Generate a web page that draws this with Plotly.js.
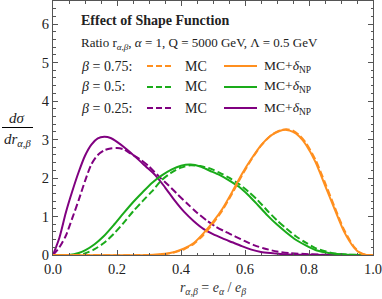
<!DOCTYPE html>
<html>
<head>
<meta charset="utf-8">
<script src="https://cdn.plot.ly/plotly-3.0.1.min.js"></script>
</head>
<body style="margin:0;font-family:'Liberation Serif'">
<div id="chart" style="width:382px;height:299px"></div>
<div style="position:absolute;left:0;top:0;visibility:hidden;font-family:'Liberation Serif';font-size:14px" aria-hidden="true">β α δ Λ σ 0.2 <b>E</b> <i>d</i></div>
<script>
// beta = 0.25
const xPurpleNP = [0,0.02,0.04,0.06,0.08,0.10,0.12,0.14,0.16,0.18,0.20,0.23,0.26,0.29,0.32,0.35,0.38,0.41,0.44,0.47,0.50,0.53,0.56,0.59,0.62,0.65,0.68,0.72,0.80,0.90,1.0];
const yPurpleNP = [0,0.45,1.1,1.65,2.15,2.58,2.87,3.03,3.07,3.04,2.94,2.75,2.53,2.30,2.07,1.76,1.42,1.12,0.88,0.68,0.54,0.43,0.33,0.23,0.14,0.08,0.05,0.02,0.005,0,0];
const xPurpleMC = [0,0.02,0.04,0.06,0.08,0.10,0.12,0.14,0.16,0.18,0.20,0.22,0.24,0.27,0.30,0.33,0.36,0.39,0.42,0.45,0.48,0.51,0.54,0.57,0.60,0.63,0.66,0.70,0.74,0.80,0.86,0.90,1.0];
const yPurpleMC = [0,0.2,0.5,0.95,1.42,1.92,2.36,2.60,2.72,2.77,2.78,2.75,2.65,2.50,2.30,2.05,1.82,1.57,1.33,1.10,0.90,0.73,0.60,0.48,0.36,0.25,0.17,0.09,0.05,0.02,0.005,0,0];
// beta = 0.5
const xGreenNP = [0,0.05,0.08,0.10,0.13,0.16,0.19,0.22,0.25,0.28,0.31,0.34,0.37,0.40,0.43,0.46,0.49,0.52,0.55,0.58,0.61,0.64,0.67,0.70,0.73,0.76,0.79,0.82,0.85,0.88,0.92,1.0];
const yGreenNP = [0,0,0.05,0.12,0.28,0.50,0.78,1.08,1.37,1.63,1.88,2.07,2.22,2.32,2.35,2.30,2.19,2.08,1.94,1.78,1.56,1.30,1.03,0.79,0.58,0.39,0.25,0.13,0.07,0.03,0.005,0];
const xGreenMC = [0,0.07,0.10,0.13,0.16,0.19,0.22,0.25,0.28,0.31,0.34,0.37,0.40,0.43,0.46,0.49,0.52,0.55,0.58,0.61,0.64,0.67,0.70,0.73,0.76,0.79,0.82,0.85,0.88,0.92,1.0];
const yGreenMC = [0,0,0.04,0.15,0.32,0.55,0.83,1.13,1.40,1.66,1.95,2.14,2.27,2.33,2.31,2.25,2.14,2.01,1.85,1.65,1.42,1.15,0.90,0.68,0.48,0.32,0.18,0.10,0.04,0.01,0];
// beta = 0.75
const xOrangeNP = [0,0.30,0.35,0.38,0.41,0.44,0.47,0.50,0.53,0.56,0.59,0.62,0.65,0.68,0.71,0.73,0.75,0.77,0.79,0.82,0.85,0.88,0.91,0.94,0.96,0.98,1.0];
const yOrangeNP = [0,0,0.03,0.08,0.17,0.31,0.56,0.86,1.21,1.64,2.10,2.50,2.85,3.10,3.23,3.25,3.20,3.08,2.87,2.42,1.81,1.19,0.60,0.20,0.05,0,0];
const xOrangeMC = [0,0.30,0.35,0.38,0.41,0.44,0.47,0.50,0.53,0.56,0.59,0.62,0.65,0.68,0.71,0.73,0.75,0.77,0.79,0.82,0.85,0.88,0.91,0.94,0.96,0.98,1.0];
const yOrangeMC = [0,0,0.02,0.07,0.15,0.29,0.52,0.82,1.17,1.60,2.06,2.48,2.84,3.10,3.24,3.27,3.23,3.11,2.92,2.48,1.88,1.25,0.65,0.22,0.06,0,0];

const xTickVals = [0,0.2,0.4,0.6,0.8,1.0];
const yTickVals = [0,1,2,3,4,5,6];
const betaLabels = ['<i>β</i> = 0.75:', '<i>β</i> = 0.5:', '<i>β</i> = 0.25:'];

const cOrange = '#ff8f1f', cGreen = '#1aab1a', cPurple = '#800080';
const dashPat = '7px,3px';
const serif = 'Liberation Serif';

function tr(x, y, color, dashed, name){
  return {x:x, y:y, type:'scatter', mode:'lines', name:name, showlegend:false,
    line:{color:color, width:2, dash: dashed ? dashPat : 'solid', shape:'spline', smoothing:0.7},
    hoverinfo:'skip'};
}
const data = [
  tr(xPurpleMC, yPurpleMC, cPurple, true, 'β=0.25 MC'),
  tr(xPurpleNP, yPurpleNP, cPurple, false, 'β=0.25 MC+δNP'),
  tr(xGreenMC, yGreenMC, cGreen, true, 'β=0.5 MC'),
  tr(xGreenNP, yGreenNP, cGreen, false, 'β=0.5 MC+δNP'),
  tr(xOrangeMC, yOrangeMC, cOrange, true, 'β=0.75 MC'),
  tr(xOrangeNP, yOrangeNP, cOrange, false, 'β=0.75 MC+δNP')
];

// pixel -> paper helpers (plot area: left 53, width 320, bottom 255, height 254)
const px = p => (p-53)/320;
const py = p => (255-p)/254;

const ann = [];
const shapes = [];
ann.push({xref:'paper', yref:'paper', x:px(79), y:py(21), xanchor:'left', yanchor:'middle', showarrow:false,
  text:'<b>Effect of Shape Function</b>', font:{family:serif, size:14}});
ann.push({xref:'paper', yref:'paper', x:px(79), y:py(43), xanchor:'left', yanchor:'middle', showarrow:false,
  text:'Ratio r<sub><i>α</i>,<i>β</i></sub>, <i>α</i> = 1, Q = 5000 GeV, Λ = 0.5 GeV', font:{family:serif, size:13}});
const rowY = [66, 87, 108];
const rowColors = [cOrange, cGreen, cPurple];
for (let i=0;i<3;i++){
  ann.push({xref:'paper', yref:'paper', x:px(79), y:py(rowY[i]), xanchor:'left', yanchor:'middle', showarrow:false,
    text:betaLabels[i], font:{family:serif, size:14}});
  ann.push({xref:'paper', yref:'paper', x:px(183), y:py(rowY[i]), xanchor:'left', yanchor:'middle', showarrow:false,
    text:'MC', font:{family:serif, size:14}});
  ann.push({xref:'paper', yref:'paper', x:px(262), y:py(rowY[i]), xanchor:'left', yanchor:'middle', showarrow:false,
    text:'MC+<i>δ</i><sub>NP</sub>', font:{family:serif, size:13.5}});
  shapes.push({type:'line', xref:'paper', yref:'paper', x0:px(147), x1:px(172), y0:py(rowY[i]), y1:py(rowY[i]),
    line:{color:rowColors[i], width:2, dash:'6px,3px'}});
  shapes.push({type:'line', xref:'paper', yref:'paper', x0:px(224), x1:px(257), y0:py(rowY[i]), y1:py(rowY[i]),
    line:{color:rowColors[i], width:2}});
}
// y-axis fraction title
ann.push({xref:'paper', yref:'paper', x:px(17), y:py(118), xanchor:'center', yanchor:'middle', showarrow:false,
  text:'<i>dσ</i>', font:{family:serif, size:15}});
ann.push({xref:'paper', yref:'paper', x:px(17), y:py(140), xanchor:'center', yanchor:'middle', showarrow:false,
  text:'<i>dr</i><sub><i>α</i>,<i>β</i></sub>', font:{family:serif, size:15}});
shapes.push({type:'line', xref:'paper', yref:'paper', x0:px(2), x1:px(33), y0:py(127.5), y1:py(127.5),
  line:{color:'#000', width:1}});

const axisCommon = {
  showline:true, linecolor:'#555', linewidth:1, mirror:'allticks',
  ticks:'inside', ticklen:5, tickwidth:1, tickcolor:'#555',
  showgrid:false, zeroline:false,
  tickfont:{family:serif, size:14.5}
};

const layout = {
  width:382, height:299,
  margin:{l:53, r:9, t:1, b:44},
  paper_bgcolor:'#fff', plot_bgcolor:'#fff',
  font:{family:serif, color:'#222'},
  xaxis:Object.assign({}, axisCommon, {
    range:[0,1], tickvals:xTickVals, ticktext:xTickVals.map(v=>v.toFixed(1)),
    ticklabeloverflow:'allow', ticklabelstandoff:1,
    minor:{ticks:'inside', ticklen:2.5, tickwidth:1, tickcolor:'#555', dtick:0.05, tick0:0},
    title:{text:'<i>r</i><sub><i>α</i>,<i>β</i></sub> = <i>e</i><sub><i>α</i></sub> / <i>e</i><sub><i>β</i></sub>',
      font:{family:serif, size:14, color:'#333'}, standoff:5}
  }),
  yaxis:Object.assign({}, axisCommon, {
    range:[0,6.6], tickvals:yTickVals, ticktext:yTickVals.map(String),
    minor:{ticks:'inside', ticklen:2.5, tickwidth:1, tickcolor:'#555', dtick:0.2, tick0:0}
  }),
  annotations:ann,
  shapes:shapes,
  showlegend:false
};

Plotly.newPlot('chart', data, layout, {displayModeBar:false, staticPlot:true});
</script>
</body>
</html>
